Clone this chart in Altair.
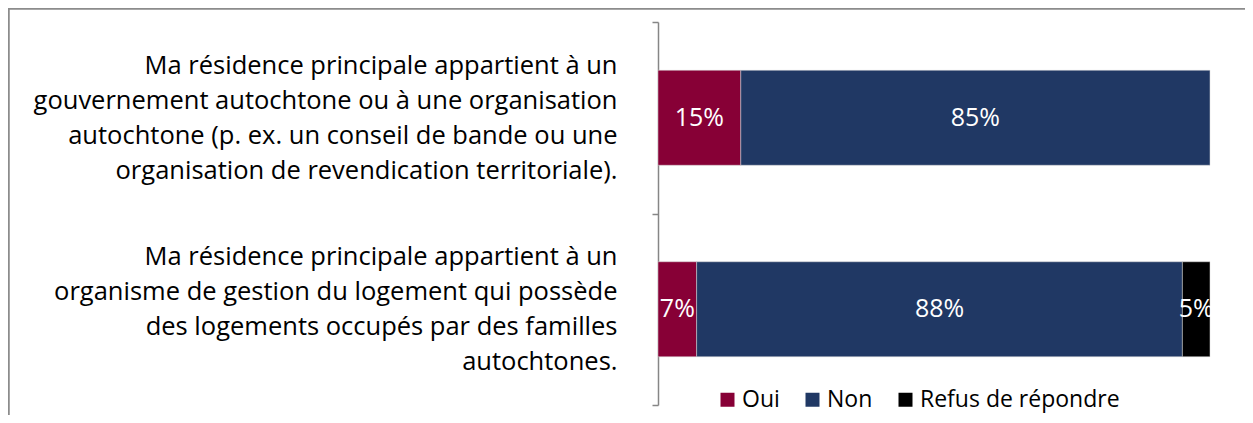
import altair as alt
import pandas as pd

questions = [
    "Ma résidence principale appartient à un|gouvernement autochtone ou à une organisation|autochtone (p. ex. un conseil de bande ou une|organisation de revendication territoriale).",
    "Ma résidence principale appartient à un|organisme de gestion du logement qui possède|des logements occupés par des familles|autochtones.",
]
categories = ["Oui", "Non", "Refus de répondre"]
colors = ["#870036", "#203864", "#000000"]
values_q1 = [15, 85, 0]
values_q2 = [7, 88, 5]

rows = []
for q, vals in zip(questions, [values_q1, values_q2]):
    for i, (c, v) in enumerate(zip(categories, vals)):
        if v > 0:
            rows.append({"question": q, "category": c, "value": v, "order": i})
df = pd.DataFrame(rows)

FONT = "Open Sans"
W, H = 552, 383
PAD_L, PAD_T = 650, 14
LINE_H = 35

base = alt.Chart(df).transform_stack(
    stack="value", groupby=["question"], as_=["v0", "v1"],
    sort=[alt.SortField("order", order="ascending")],
).transform_calculate(mid="(datum.v0 + datum.v1) / 2", lbl="datum.value + '%'")

yenc = alt.Y(
    "question:N", sort=questions, title=None,
    scale=alt.Scale(paddingInner=0, paddingOuter=0),
    axis=alt.Axis(
        labelExpr="split(datum.label, '|')",
        labelAlign="right", labelBaseline="middle",
        labelFont=FONT, labelFontSize=25.5, labelColor="#000000",
        labelLineHeight=LINE_H, labelPadding=35, labelLimit=700,
        labelOffset=-1.5 * LINE_H,
        tickBand="extent", tickSize=6, tickColor="#868686", tickWidth=1.5,
        domainColor="#868686", domainWidth=1.5,
    ),
)
xscale = alt.Scale(domain=[0, 100], nice=False)

bars = base.mark_bar(size=95, stroke="#d9d9d9", strokeWidth=0.5).encode(
    y=yenc,
    x=alt.X("v0:Q", scale=xscale, axis=None),
    x2="v1:Q",
    color=alt.Color(
        "category:N",
        scale=alt.Scale(domain=categories, range=colors),
        legend=alt.Legend(
            title=None, orient="none", direction="horizontal",
            legendX=58, legendY=366, padding=0,
            symbolType="square", symbolSize=196, symbolStrokeWidth=0,
            labelFont=FONT, labelFontSize=23, labelColor="#000000",
            labelOffset=3, columnPadding=21, labelLimit=400,
        ),
    ),
)

labels = base.mark_text(
    color="white", font=FONT, fontSize=25, align="center", baseline="middle"
).encode(
    y=alt.Y("question:N", sort=questions),
    x=alt.X("mid:Q", scale=xscale),
    text="lbl:N",
)

frame_top = alt.Chart(df).mark_rule(color="#8c8c8c", strokeWidth=1.5).encode(
    x=alt.value(-PAD_L + 0.5), x2=alt.value(W + 40), y=alt.value(-PAD_T + 0.5)
)
frame_left = alt.Chart(df).mark_rule(color="#8c8c8c", strokeWidth=1.5).encode(
    x=alt.value(-PAD_L + 0.5), y=alt.value(-PAD_T + 0.5), y2=alt.value(H + 40)
)

chart = alt.layer(frame_top, frame_left, bars, labels).properties(
    width=W, height=H,
    padding={"left": PAD_L, "top": PAD_T, "right": 35, "bottom": 10},
    autosize=alt.AutoSizeParams(type="none"),
).configure_view(stroke=None)

chart.save("out.html", embed_options={"renderer": "svg", "actions": False})
